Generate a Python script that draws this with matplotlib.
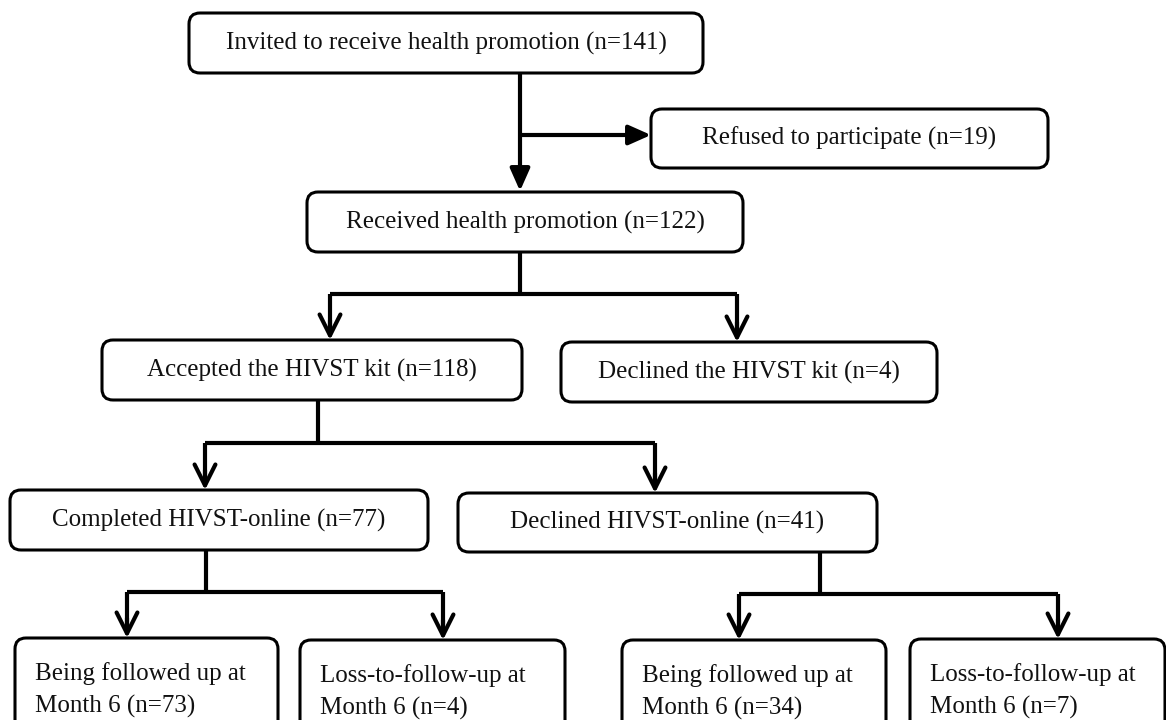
import matplotlib.pyplot as plt
from matplotlib.patches import FancyBboxPatch

# flowchart content
labels = [
    "Invited to receive health promotion",
    "Refused to participate",
    "Received health promotion",
    "Accepted the HIVST kit",
    "Declined the HIVST kit",
    "Completed HIVST-online",
    "Declined HIVST-online",
    "Being followed up at\nMonth 6",
    "Loss-to-follow-up at\nMonth 6",
    "Being followed up at\nMonth 6",
    "Loss-to-follow-up at\nMonth 6",
]
counts = [141, 19, 122, 118, 4, 77, 41, 73, 4, 34, 7]

# layout in pixels (x0, y0, x1, y1), y downwards
boxes = [
    (189, 13, 703, 73),
    (651, 109, 1048, 168),
    (307, 192, 743, 252),
    (102, 340, 522, 400),
    (561, 342, 937, 402),
    (10, 490, 428, 550),
    (458, 493, 877, 552),
    (15, 638, 278, 735),
    (300, 640, 565, 735),
    (622, 640, 886, 735),
    (910, 639, 1165, 735),
]

fig = plt.figure(figsize=(11.66, 7.2), dpi=100)
ax = fig.add_axes([0, 0, 1, 1])
ax.set_xlim(0, 1166)
ax.set_ylim(720, 0)
ax.axis("off")

font = dict(family="Liberation Serif", size=18, color="#111111")

for i, (lab, n) in enumerate(zip(labels, counts)):
    x0, y0, x1, y1 = boxes[i]
    ax.add_patch(FancyBboxPatch((x0, y0), x1 - x0, y1 - y0,
                                boxstyle="round,pad=0,rounding_size=11",
                                fc="white", ec="black", lw=2.2))
    txt = f"{lab} (n={n})"
    if "\n" in lab:
        ax.text(x0 + 20, y0 + 24, txt, ha="left", va="top",
                linespacing=1.55, **font)
    else:
        ax.text((x0 + x1) / 2, (y0 + y1) / 2, txt, ha="center",
                va="center", **font)

lk = dict(color="black", lw=3, solid_capstyle="butt")


def arrow(x0, y0, x1, y1, style):
    ax.annotate("", xy=(x1, y1), xytext=(x0, y0),
                arrowprops=dict(arrowstyle=style, color="black", lw=3,
                                shrinkA=0, shrinkB=0, mutation_scale=15))


# top -> received, with side branch to refused
ax.plot([520, 520], [73, 175], **lk)
arrow(520, 170, 520, 191, "-|>,head_width=0.4,head_length=0.9")
ax.plot([520, 636], [135, 135], **lk)
arrow(630, 135, 651, 135, "-|>,head_width=0.4,head_length=0.9")


def split(xs, y0, ym, xl, xr, yl, yr):
    ax.plot([xs, xs], [y0, ym], **lk)
    ax.plot([xl, xr], [ym, ym], **lk)
    ax.plot([xl, xl], [ym, yl - 5], **lk)
    ax.plot([xr, xr], [ym, yr - 5], **lk)
    arrow(xl, yl - 20, xl, yl, "->,head_width=0.5,head_length=1.0")
    arrow(xr, yr - 20, xr, yr, "->,head_width=0.5,head_length=1.0")


split(520, 252, 294, 330, 737, 340, 342)
split(318, 400, 443, 205, 655, 490, 493)
split(206, 550, 592, 127, 443, 638, 640)
split(820, 552, 594, 739, 1058, 640, 639)

fig.savefig("out.png", dpi=100, facecolor="white")
